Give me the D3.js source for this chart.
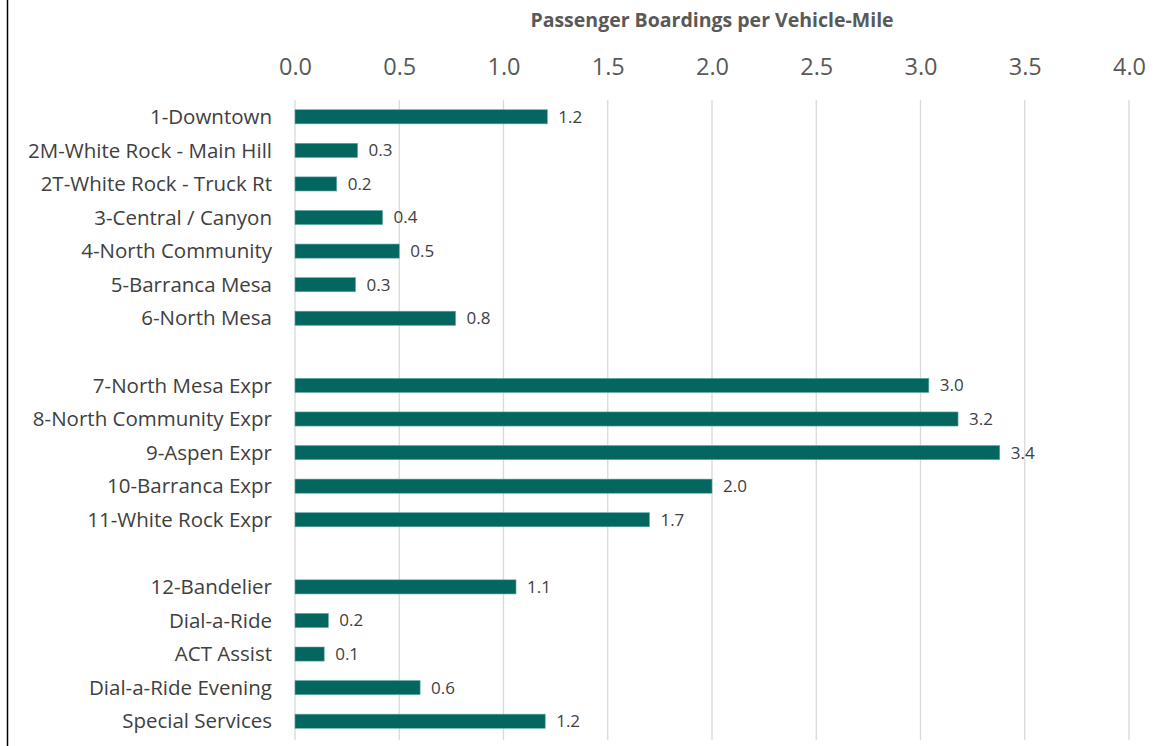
<!DOCTYPE html>
<html>
<head>
<meta charset="utf-8">
<script src="https://cdn.jsdelivr.net/npm/d3@7"></script>
<style>
  body { margin: 0; background: #fff; }
  svg { display: block; font-family: "Open Sans", "Liberation Sans", sans-serif; }
</style>
</head>
<body>
<svg id="chart" width="1155" height="746"></svg>
<script>
// Passenger boardings per vehicle-mile, by route
// empty strings are the spacer rows between route groups
var categories = ["1-Downtown", "2M-White Rock - Main Hill", "2T-White Rock - Truck Rt",
    "3-Central / Canyon", "4-North Community", "5-Barranca Mesa", "6-North Mesa", "",
    "7-North Mesa Expr", "8-North Community Expr", "9-Aspen Expr", "10-Barranca Expr",
    "11-White Rock Expr", "", "12-Bandelier", "Dial-a-Ride", "ACT Assist",
    "Dial-a-Ride Evening", "Special Services"];
var values = [1.21, 0.30, 0.20, 0.42, 0.50, 0.29, 0.77, null,
    3.04, 3.18, 3.38, 2.00, 1.70, null, 1.06, 0.16, 0.14, 0.60, 1.20];
var tickValues = [0, 0.5, 1.0, 1.5, 2.0, 2.5, 3.0, 3.5, 4.0];
var title = "Passenger Boardings per Vehicle-Mile";

(function(d3) {
    var svg = d3.select("#chart");
    var margin = { left: 295, right: 26, top: 100, bottom: 8 };
    var width = 1155, height = 746;

    var x = d3.scaleLinear().domain([0, 4]).range([margin.left, width - margin.right]);
    var y = d3.scaleBand()
        .domain(d3.range(categories.length))
        .range([margin.top, height - margin.bottom])
        .paddingInner(0.58)
        .paddingOuter(0.29);

    // frame line on the left
    svg.append("line")
        .attr("x1", 7.5).attr("x2", 7.5).attr("y1", 0).attr("y2", height)
        .attr("stroke", "#000").attr("stroke-width", 1.5);

    // gridlines
    svg.append("g").selectAll("line")
        .data(tickValues)
        .enter()
        .append("line")
        .attr("x1", function(d) { return x(d); })
        .attr("x2", function(d) { return x(d); })
        .attr("y1", margin.top)
        .attr("y2", height - 6)
        .attr("stroke", "#d9d9d9")
        .attr("stroke-width", 1.3);

    // top axis, labels only
    var xAxis = d3.axisTop(x).tickValues(tickValues).tickFormat(d3.format(".1f")).tickSize(0).tickPadding(0);
    var axisG = svg.append("g").attr("transform", "translate(0,75)").call(xAxis);
    axisG.select(".domain").remove();
    axisG.selectAll("text")
        .attr("font-size", "23.5px")
        .attr("fill", "#595959")
        .attr("font-family", "Open Sans, sans-serif");

    // title
    svg.append("text")
        .attr("x", (x(0) + x(4)) / 2)
        .attr("y", 27)
        .attr("text-anchor", "middle")
        .attr("font-size", "19.5px")
        .attr("font-weight", "bold")
        .attr("fill", "#595959")
        .text(title);

    var rows = categories.map(function(c, i) { return { name: c, value: values[i], i: i }; });

    // category labels
    svg.append("g").selectAll("text")
        .data(rows)
        .enter()
        .append("text")
        .attr("x", 272)
        .attr("y", function(d) { return y(d.i) + y.bandwidth() / 2; })
        .attr("dy", "0.35em")
        .attr("text-anchor", "end")
        .attr("font-size", "20.5px")
        .attr("fill", "#404040")
        .text(function(d) { return d.name; });

    var bars = rows.filter(function(d) { return d.value !== null; });

    svg.append("g").selectAll("rect")
        .data(bars)
        .enter()
        .append("rect")
        .attr("x", x(0))
        .attr("y", function(d) { return y(d.i); })
        .attr("width", function(d) { return x(d.value) - x(0); })
        .attr("height", y.bandwidth())
        .attr("fill", "#03665f")
        .attr("stroke", "#5fa8a3")
        .attr("stroke-width", 0.6);

    svg.append("g").selectAll("text")
        .data(bars)
        .enter()
        .append("text")
        .attr("x", function(d) { return x(d.value) + 11; })
        .attr("y", function(d) { return y(d.i) + y.bandwidth() / 2; })
        .attr("dy", "0.35em")
        .attr("font-size", "17px")
        .attr("fill", "#404040")
        .text(function(d) { return d3.format(".1f")(d.value); });

})(d3);
</script>
</body>
</html>
